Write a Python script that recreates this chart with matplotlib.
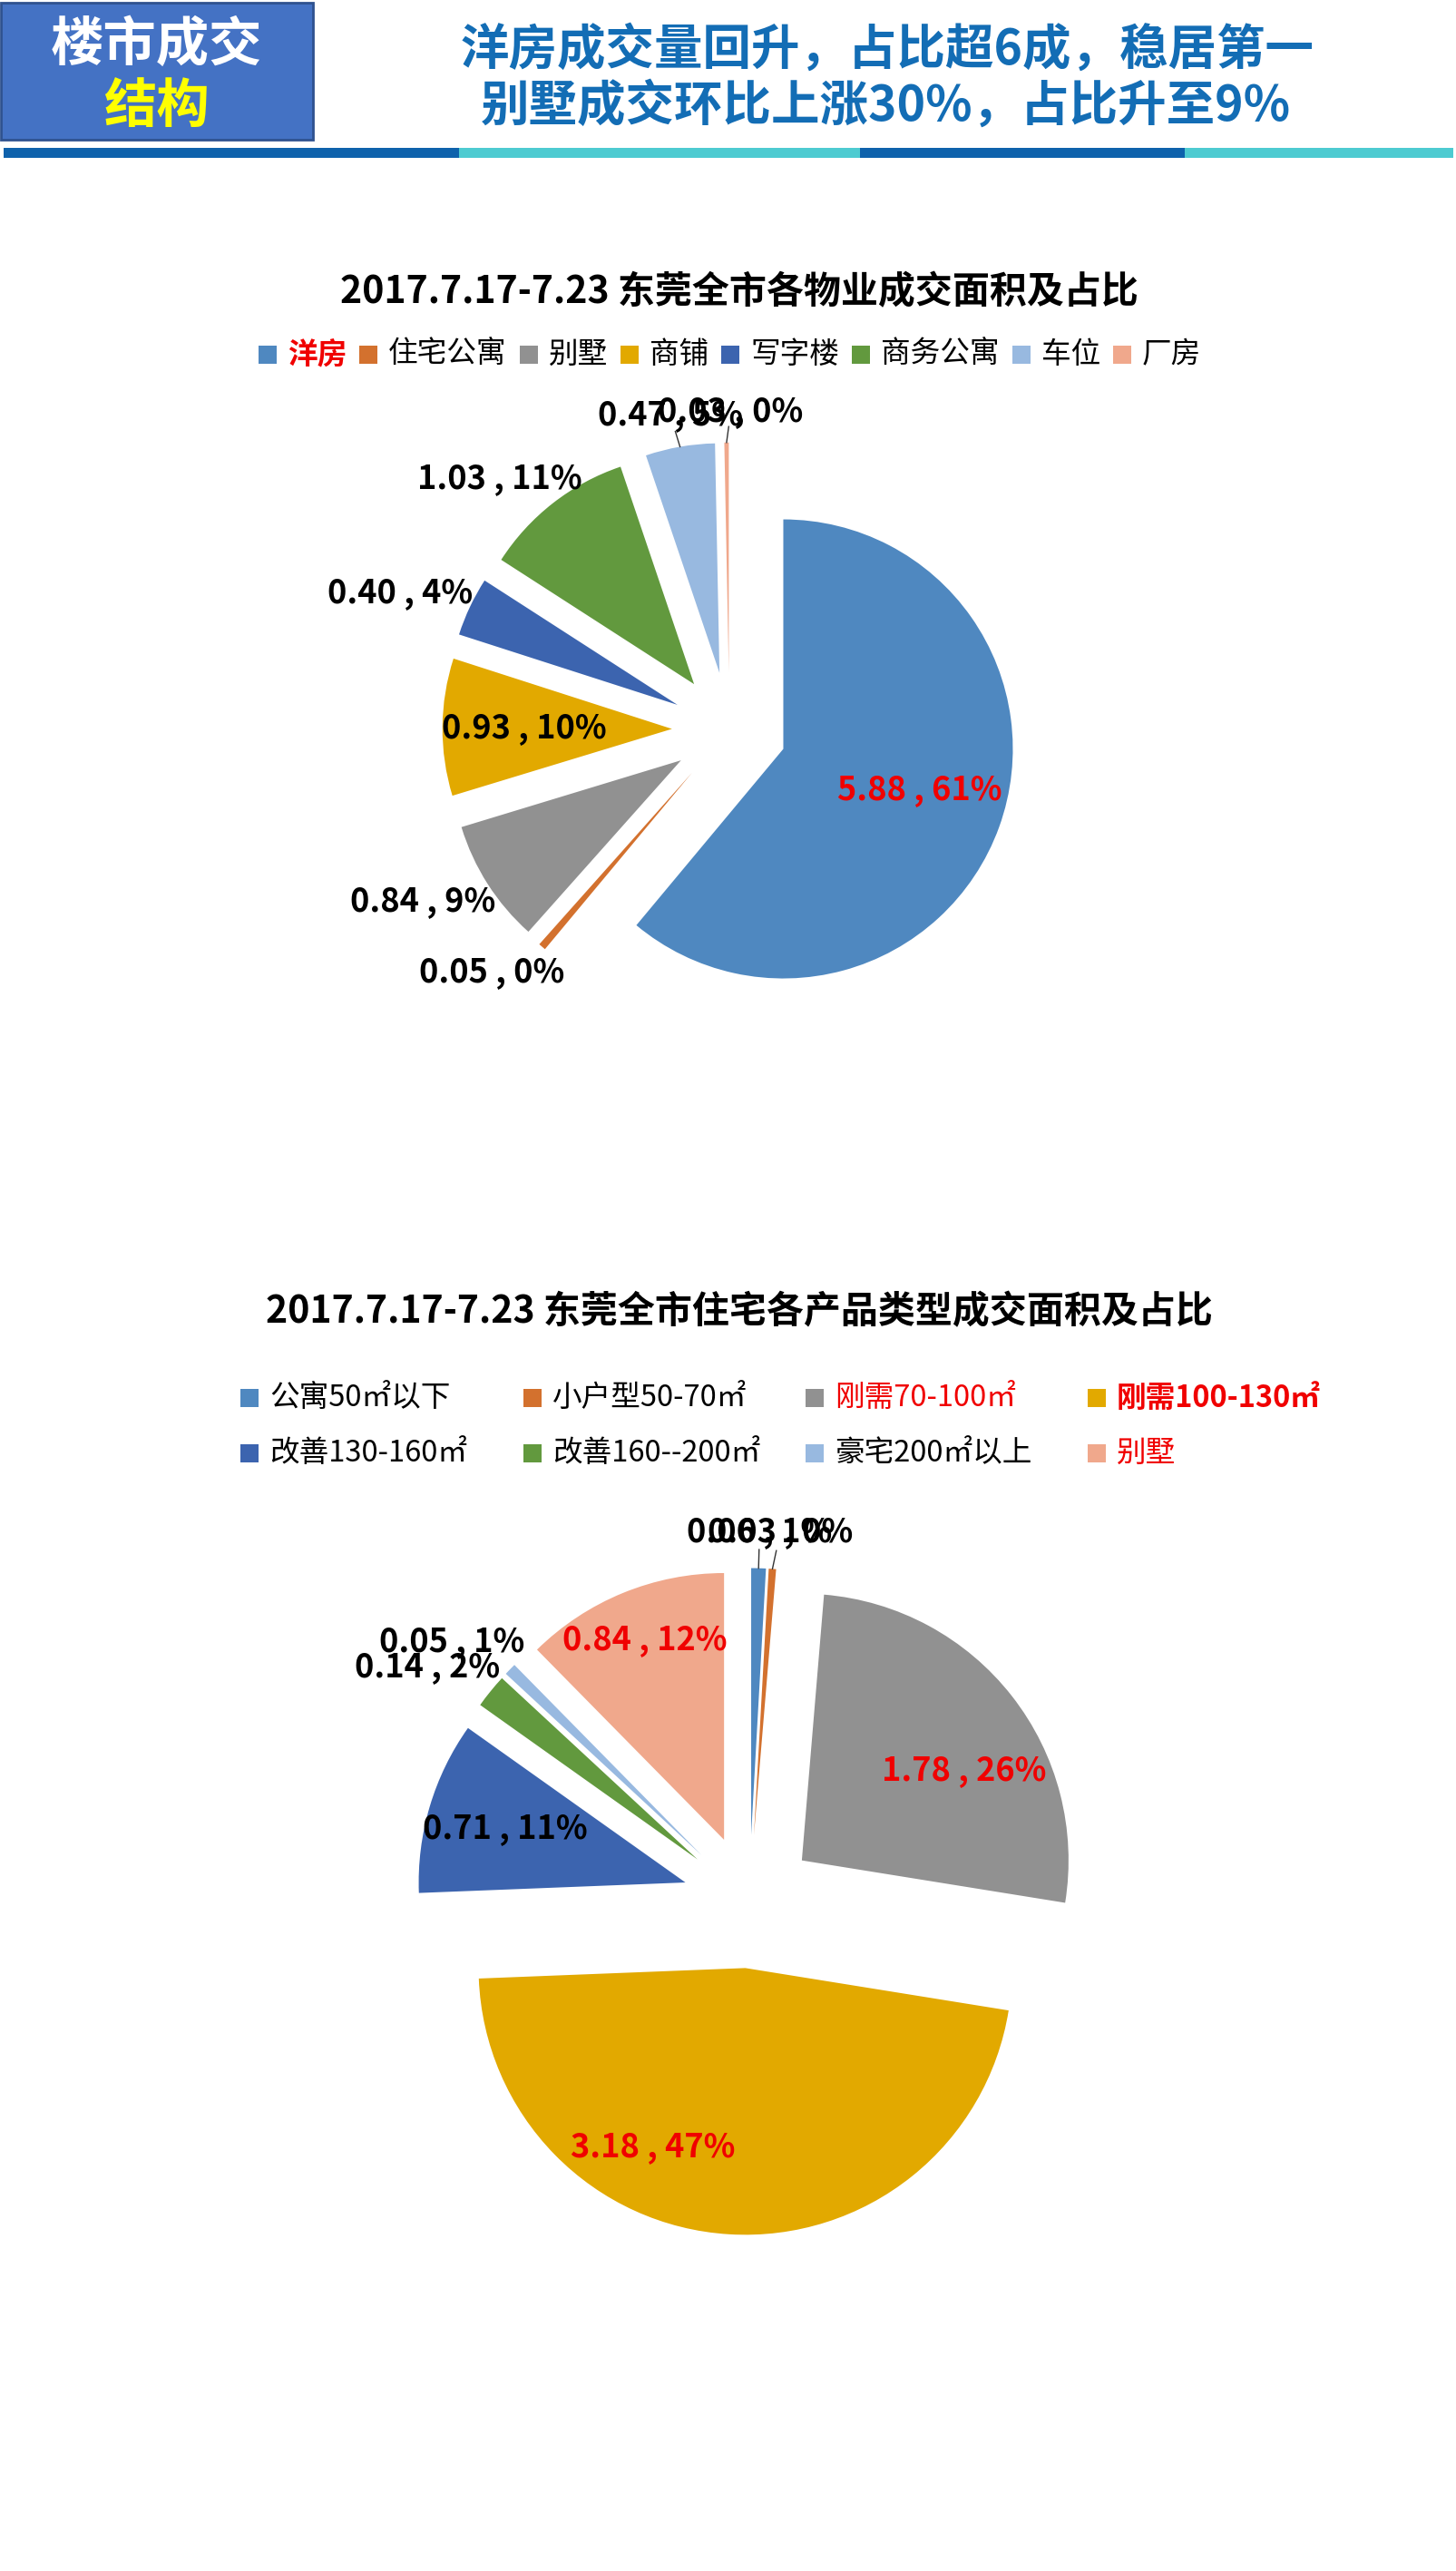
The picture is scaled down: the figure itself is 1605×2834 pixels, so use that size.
import numpy as np
import matplotlib
matplotlib.use('Agg')
import matplotlib.pyplot as plt
from matplotlib.patches import Rectangle

plt.rcParams['font.family'] = ['Noto Sans CJK SC', 'DejaVu Sans']

# ---------------- data ----------------
header_tag = ['楼市成交', '结构']
header_lines = ['洋房成交量回升，占比超6成，稳居第一', '别墅成交环比上涨30%，占比升至9%']

title1 = '2017.7.17-7.23 东莞全市各物业成交面积及占比'
cat1 = ['洋房', '住宅公寓', '别墅', '商铺', '写字楼', '商务公寓', '车位', '厂房']
val1 = [5.88, 0.05, 0.84, 0.93, 0.40, 1.03, 0.47, 0.03]
pct1 = [61, 0, 9, 10, 4, 11, 5, 0]

title2 = '2017.7.17-7.23 东莞全市住宅各产品类型成交面积及占比'
cat2 = ['公寓50㎡以下', '小户型50-70㎡', '刚需70-100㎡', '刚需100-130㎡',
        '改善130-160㎡', '改善160--200㎡', '豪宅200㎡以上', '别墅']
val2 = [0.06, 0.03, 1.78, 3.18, 0.71, 0.14, 0.05, 0.84]
pct2 = [1, 0, 26, 47, 11, 2, 1, 12]

# ---------------- style ----------------
colors = ['#4F88C0', '#D3712E', '#919191', '#E2A900', '#3C64AF', '#62993E', '#98B9E0', '#F0A88C']
RED = '#F00000'
W, H = 1606, 2834

fig = plt.figure(figsize=(W / 100, H / 100), dpi=100)
fig.patch.set_facecolor('white')

def fx(px):
    return px / W

def fy(py):
    return 1 - py / H

# ---------------- header ----------------
fig.add_artist(Rectangle((fx(1), fy(154)), fx(344), 151 / H, transform=fig.transFigure,
                         facecolor='#4472C4', edgecolor='#2F528F', linewidth=2))
fig.text(fx(172), fy(50), header_tag[0], color='white', fontsize=42, fontweight='bold',
         ha='center', va='center')
fig.text(fx(172), fy(119), header_tag[1], color='#FFFF00', fontsize=42, fontweight='bold',
         ha='center', va='center')
fig.text(fx(978), fy(55), header_lines[0], color='#136DB5', fontsize=38.5, fontweight='bold',
         ha='center', va='center')
fig.text(fx(976), fy(117), header_lines[1], color='#136DB5', fontsize=38.5, fontweight='bold',
         ha='center', va='center')
stripe_x = [4, 506, 948, 1306, 1602]
stripe_c = ['#0E62AC', '#4DCBD1', '#0E62AC', '#4DCBD1']
for i in range(4):
    fig.add_artist(Rectangle((fx(stripe_x[i]), fy(174)), fx(stripe_x[i + 1] - stripe_x[i]), 11 / H,
                             transform=fig.transFigure, facecolor=stripe_c[i], edgecolor='none'))

# ---------------- pies ----------------
def draw_pie(cx, cy, r, vals, pcts, label_style, label_colors, leaders):
    L = 1.6
    half = L * r
    ax = fig.add_axes([fx(cx - half), fy(cy + half), 2 * half / W, 2 * half / H])
    wedges, _ = ax.pie(vals, colors=colors, startangle=90, counterclock=False,
                       explode=[0.25] * len(vals), radius=1,
                       wedgeprops=dict(linewidth=0))
    ax.set_xlim(-L, L)
    ax.set_ylim(-L, L)
    ax.axis('off')
    for i, w in enumerate(wedges):
        phi = np.deg2rad((w.theta1 + w.theta2) / 2)
        wx, wy = w.center
        k, dphi = label_style[i]
        a = phi + np.deg2rad(dphi)
        lx, ly = wx + k * np.cos(a), wy + k * np.sin(a)
        ax.text(lx, ly, f'{vals[i]:.2f} , {pcts[i]}%', ha='center', va='center',
                fontsize=26, fontweight='bold', color=label_colors[i])
        if i in leaders:
            sx, sy = wx + 1.0 * np.cos(phi), wy + 1.0 * np.sin(phi)
            dx, dy = lx - sx, ly - sy
            n = np.hypot(dx, dy)
            ex, ey = sx + 0.07 * dx / n, sy + 0.07 * dy / n
            ax.plot([sx, ex], [sy, ey], color='#333333', lw=1)
    return ax

style1 = [(0.619, 3.2), (1.23, -4.35), (1.28, -4.0), (0.643, 0), (1.304, 3.4),
          (1.232, 5.4), (1.145, 0.9), (1.136, -1)]
lc1 = [RED] + ['black'] * 7
draw_pie(804, 804, 253, val1, pct1, style1, lc1, leaders=[6, 7])

style2 = [(1.137, 0), (1.141, -1), (0.694, -9), (0.755, -23.9), (0.704, 0),
          (1.244, 3.7), (1.233, 3.6), (0.807, -0.6)]
lc2 = ['black', 'black', RED, RED, 'black', 'black', 'black', RED]
draw_pie(826, 2096, 294, val2, pct2, style2, lc2, leaders=[0, 1])

# ---------------- titles ----------------
fig.text(fx(815), fy(322), title1, fontsize=29.5, fontweight='bold', ha='center', va='center')
fig.text(fx(815), fy(1446), title2, fontsize=29.5, fontweight='bold', ha='center', va='center')

# ---------------- legends ----------------
renderer = fig.canvas.get_renderer()
SQ = 20

def legend_item(x, yc, color, label, tcolor, weight):
    fig.add_artist(Rectangle((fx(x), fy(yc + SQ / 2)), SQ / W, SQ / H, transform=fig.transFigure,
                             facecolor=color, edgecolor='none'))
    t = fig.text(fx(x + SQ + 12), fy(yc), label, fontsize=23.5, color=tcolor, fontweight=weight,
                 ha='left', va='center')
    bb = t.get_window_extent(renderer)
    return x + SQ + 12 + bb.width

leg1_tc = [RED] + ['black'] * 7
leg1_w = ['bold'] + ['normal'] * 7
x = 285
for i in range(len(cat1)):
    end = legend_item(x, 391, colors[i], cat1[i], leg1_tc[i], leg1_w[i])
    x = end + 14

leg2_tc = ['black', 'black', RED, RED, 'black', 'black', 'black', RED]
leg2_w = ['normal', 'normal', 'normal', 'bold', 'normal', 'normal', 'normal', 'normal']
col_x = [265, 577, 888, 1199]
row_y = [1541, 1602]
for i in range(len(cat2)):
    legend_item(col_x[i % 4], row_y[i // 4], colors[i], cat2[i], leg2_tc[i], leg2_w[i])

fig.savefig('out.png', dpi=100, facecolor='white')
